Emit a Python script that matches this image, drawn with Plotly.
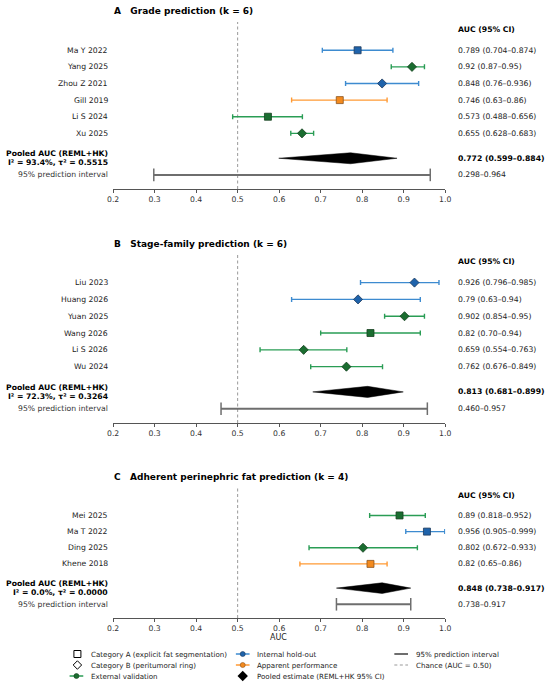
import plotly.graph_objects as go

# ---------------------------------------------------------------------------
# Data
# ---------------------------------------------------------------------------

grade_studies = ["Ma Y 2022", "Yang 2025", "Zhou Z 2021", "Gill 2019", "Li S 2024", "Xu 2025"]
grade_auc = [0.789, 0.92, 0.848, 0.746, 0.573, 0.655]
grade_lo = [0.704, 0.87, 0.76, 0.63, 0.488, 0.628]
grade_hi = [0.874, 0.95, 0.936, 0.86, 0.656, 0.683]
grade_category = ["A", "B", "B", "A", "A", "B"]
grade_validation = ["internal", "external", "internal", "apparent", "external", "external"]
grade_ci_text = ["0.789 (0.704–0.874)", "0.92 (0.87–0.95)", "0.848 (0.76–0.936)",
                 "0.746 (0.63–0.86)", "0.573 (0.488–0.656)", "0.655 (0.628–0.683)"]
grade_pooled = [0.599, 0.772, 0.884]
grade_pooled_text = "0.772 (0.599–0.884)"
grade_het_text = "I² = 93.4%, τ² = 0.5515"
grade_pi = [0.298, 0.964]
grade_pi_text = "0.298–0.964"

stage_studies = ["Liu 2023", "Huang 2026", "Yuan 2025", "Wang 2026", "Li S 2026", "Wu 2024"]
stage_auc = [0.926, 0.79, 0.902, 0.82, 0.659, 0.762]
stage_lo = [0.796, 0.63, 0.854, 0.70, 0.554, 0.676]
stage_hi = [0.985, 0.94, 0.95, 0.94, 0.763, 0.849]
stage_category = ["B", "B", "B", "A", "B", "B"]
stage_validation = ["internal", "internal", "external", "external", "external", "external"]
stage_ci_text = ["0.926 (0.796–0.985)", "0.79 (0.63–0.94)", "0.902 (0.854–0.95)",
                 "0.82 (0.70–0.94)", "0.659 (0.554–0.763)", "0.762 (0.676–0.849)"]
stage_pooled = [0.681, 0.813, 0.899]
stage_pooled_text = "0.813 (0.681–0.899)"
stage_het_text = "I² = 72.3%, τ² = 0.3264"
stage_pi = [0.460, 0.957]
stage_pi_text = "0.460–0.957"

fat_studies = ["Mei 2025", "Ma T 2022", "Ding 2025", "Khene 2018"]
fat_auc = [0.89, 0.956, 0.802, 0.82]
fat_lo = [0.818, 0.905, 0.672, 0.65]
fat_hi = [0.952, 0.999, 0.933, 0.86]
fat_category = ["A", "A", "B", "A"]
fat_validation = ["external", "internal", "external", "apparent"]
fat_ci_text = ["0.89 (0.818–0.952)", "0.956 (0.905–0.999)", "0.802 (0.672–0.933)", "0.82 (0.65–0.86)"]
fat_pooled = [0.738, 0.848, 0.917]
fat_pooled_text = "0.848 (0.738–0.917)"
fat_het_text = "I² = 0.0%, τ² = 0.0000"
fat_pi = [0.738, 0.917]
fat_pi_text = "0.738–0.917"

tick_values = [0.2, 0.3, 0.4, 0.5, 0.6, 0.7, 0.8, 0.9, 1.0]
chance_auc = 0.5

# ---------------------------------------------------------------------------
# Styling
# ---------------------------------------------------------------------------

W, H = 550, 688
FONT = "DejaVu Sans"
FS = 7.7
LEG_FS = 7.1
TEXT = "#222222"
GRAY = "#6e6e6e"
AXIS = "#555555"

# validation -> (error bar colour, marker fill, marker edge)
VAL_STYLE = {
    "internal": ("#3d8bd0", "#1f63ab", "#1e3a5c"),
    "external": ("#2a9d55", "#1a6d30", "#17401f"),
    "apparent": ("#ff9a35", "#f38a1e", "#8a5420"),
}
SYMBOL = {"A": "square", "B": "diamond"}
SIZE = {"A": 7, "B": 7}


def ypx(px):
    return 1 - px / H


def xpx(px):
    return px / W


panels = [
    dict(letter="A", title="Grade prediction (k = 6)", studies=grade_studies, auc=grade_auc,
         lo=grade_lo, hi=grade_hi, cat=grade_category, val=grade_validation, ci=grade_ci_text,
         pooled=grade_pooled, pooled_text=grade_pooled_text, het=grade_het_text,
         pi=grade_pi, pi_text=grade_pi_text, top=22, bottom=189, title_y=11),
    dict(letter="B", title="Stage-family prediction (k = 6)", studies=stage_studies, auc=stage_auc,
         lo=stage_lo, hi=stage_hi, cat=stage_category, val=stage_validation, ci=stage_ci_text,
         pooled=stage_pooled, pooled_text=stage_pooled_text, het=stage_het_text,
         pi=stage_pi, pi_text=stage_pi_text, top=254, bottom=423, title_y=244),
    dict(letter="C", title="Adherent perinephric fat prediction (k = 4)", studies=fat_studies, auc=fat_auc,
         lo=fat_lo, hi=fat_hi, cat=fat_category, val=fat_validation, ci=fat_ci_text,
         pooled=fat_pooled, pooled_text=fat_pooled_text, het=fat_het_text,
         pi=fat_pi, pi_text=fat_pi_text, top=488, bottom=618, title_y=477),
]

fig = go.Figure()
annotations = []
shapes = []
layout_axes = {}

LABEL_X = xpx(106.5)
RIGHT_X = xpx(460)

for i, p in enumerate(panels):
    suffix = "" if i == 0 else str(i + 1)
    xref, yref = "x" + suffix, "y" + suffix
    n = len(p["studies"])
    pooled_row = n - 1 + 1.5
    pi_row = n - 1 + 2.5

    # individual studies
    for j in range(n):
        bar_col, fill, edge = VAL_STYLE[p["val"][j]]
        fig.add_trace(go.Scatter(
            x=[p["auc"][j]], y=[j], xaxis=xref, yaxis=yref, mode="markers",
            marker=dict(symbol=SYMBOL[p["cat"][j]], size=SIZE[p["cat"][j]], color=fill,
                        line=dict(color=edge, width=0.8)),
            error_x=dict(type="data", symmetric=False,
                         array=[p["hi"][j] - p["auc"][j]], arrayminus=[p["auc"][j] - p["lo"][j]],
                         color=bar_col, thickness=1.4, width=2.5),
            showlegend=False, cliponaxis=False, hoverinfo="skip",
        ))

    # pooled diamond
    lo, est, hi = p["pooled"]
    h = 0.33
    fig.add_trace(go.Scatter(
        x=[lo, est, hi, est, lo], y=[pooled_row, pooled_row - h, pooled_row, pooled_row + h, pooled_row],
        xaxis=xref, yaxis=yref, mode="lines", fill="toself", fillcolor="black",
        line=dict(color="black", width=0.5), showlegend=False, hoverinfo="skip",
    ))

    # prediction interval
    fig.add_trace(go.Scatter(
        x=p["pi"], y=[pi_row, pi_row], xaxis=xref, yaxis=yref, mode="lines+markers",
        line=dict(color=GRAY, width=2),
        marker=dict(symbol="line-ns", size=9, color=GRAY, line=dict(color=GRAY, width=1.5)),
        showlegend=False, cliponaxis=False, hoverinfo="skip",
    ))

    # chance line
    shapes.append(dict(type="line", xref=xref, yref=yref + " domain", x0=chance_auc, x1=chance_auc,
                       y0=0, y1=1, line=dict(color="#999999", width=1, dash="3px,2.5px"), layer="below"))

    # axes
    layout_axes["xaxis" + suffix] = dict(
        domain=[xpx(109.5), xpx(449)], range=[0.2, 1.0], anchor=yref,
        showgrid=False, zeroline=False, showline=True, linecolor=AXIS, linewidth=1.2,
        ticks="outside", ticklen=3, tickwidth=1, tickcolor=AXIS,
        tickvals=tick_values, ticktext=[f"{v:.1f}" for v in tick_values],
        tickfont=dict(family=FONT, size=FS, color="#333333"),
    )
    layout_axes["yaxis" + suffix] = dict(
        domain=[ypx(p["bottom"]), ypx(p["top"])], range=[pi_row + 0.85, -1.7],
        anchor=xref, visible=False,
    )

    # title
    annotations.append(dict(
        text=f"<b>{p['letter']}\u00a0\u00a0\u00a0{p['title']}</b>", xref="paper", yref="paper",
        x=xpx(108.5), y=ypx(p["title_y"]), xanchor="left", yanchor="middle", showarrow=False,
        font=dict(family=FONT, size=9, color="black"),
    ))

    # left labels
    for j, name in enumerate(p["studies"]):
        annotations.append(dict(text=name, xref="paper", yref=yref, x=LABEL_X, y=j,
                                xanchor="right", yanchor="middle", showarrow=False,
                                font=dict(family=FONT, size=FS, color=TEXT)))
    annotations.append(dict(text="<b>Pooled AUC (REML+HK)</b>", xref="paper", yref=yref, x=LABEL_X,
                            y=pooled_row - 0.26, xanchor="right", yanchor="middle", showarrow=False,
                            font=dict(family=FONT, size=FS, color="black")))
    annotations.append(dict(text=f"<b>{p['het']}</b>", xref="paper", yref=yref, x=LABEL_X,
                            y=pooled_row + 0.26, xanchor="right", yanchor="middle", showarrow=False,
                            font=dict(family=FONT, size=FS, color="black")))
    annotations.append(dict(text="95% prediction interval", xref="paper", yref=yref, x=LABEL_X,
                            y=pi_row, xanchor="right", yanchor="middle", showarrow=False,
                            font=dict(family=FONT, size=FS, color="#333333")))

    # right column
    annotations.append(dict(text="<b>AUC (95% CI)</b>", xref="paper", yref=yref, x=RIGHT_X, y=-1.25,
                            xanchor="left", yanchor="middle", showarrow=False,
                            font=dict(family=FONT, size=FS, color="black")))
    for j, t in enumerate(p["ci"]):
        annotations.append(dict(text=t, xref="paper", yref=yref, x=RIGHT_X, y=j,
                                xanchor="left", yanchor="middle", showarrow=False,
                                font=dict(family=FONT, size=FS, color=TEXT)))
    annotations.append(dict(text=f"<b>{p['pooled_text']}</b>", xref="paper", yref=yref, x=RIGHT_X,
                            y=pooled_row, xanchor="left", yanchor="middle", showarrow=False,
                            font=dict(family=FONT, size=FS, color="black")))
    annotations.append(dict(text=p["pi_text"], xref="paper", yref=yref, x=RIGHT_X, y=pi_row,
                            xanchor="left", yanchor="middle", showarrow=False,
                            font=dict(family=FONT, size=FS, color=TEXT)))

# x-axis title on the last panel
annotations.append(dict(text="AUC", xref="paper", yref="paper", x=xpx(279), y=ypx(637),
                        xanchor="center", yanchor="middle", showarrow=False,
                        font=dict(family=FONT, size=8, color=TEXT)))

# ---------------------------------------------------------------------------
# Legend (drawn on its own pixel-scaled axis so the rows stay compact)
# ---------------------------------------------------------------------------

legend_entries = [
    # (label, column, row, kind)
    ("Category A (explicit fat segmentation)", 0, 0, "cat_a"),
    ("Category B (peritumoral ring)", 0, 1, "cat_b"),
    ("External validation", 0, 2, "external"),
    ("Internal hold-out", 1, 0, "internal"),
    ("Apparent performance", 1, 1, "apparent"),
    ("Pooled estimate (REML+HK 95% CI)", 1, 2, "pooled"),
    ("95% prediction interval", 2, 0, "pi"),
    ("Chance (AUC = 0.50)", 2, 1, "chance"),
]
col_handle = [(63, 81), (233, 251), (395, 413)]
row_y = [654, 665, 676]

for label, col, row, kind in legend_entries:
    x0, x1 = col_handle[col]
    xm = (x0 + x1) / 2
    y = row_y[row]
    if kind in ("cat_a", "cat_b"):
        fig.add_trace(go.Scatter(
            x=[xm + 1], y=[y], xaxis="x4", yaxis="y4", mode="markers",
            marker=dict(symbol="square-open" if kind == "cat_a" else "diamond-open",
                        size=7 if kind == "cat_a" else 6.5, color="black", line=dict(width=1)),
            showlegend=False, hoverinfo="skip", cliponaxis=False))
    elif kind in VAL_STYLE:
        bar_col, fill, edge = VAL_STYLE[kind]
        fig.add_trace(go.Scatter(
            x=[x0 + 2, xm, x1 - 2], y=[y, y, y], xaxis="x4", yaxis="y4", mode="lines",
            line=dict(color=bar_col, width=1.5), showlegend=False, hoverinfo="skip"))
        fig.add_trace(go.Scatter(
            x=[xm], y=[y], xaxis="x4", yaxis="y4", mode="markers",
            marker=dict(symbol="circle", size=5, color=fill, line=dict(color=edge, width=0.6)),
            showlegend=False, hoverinfo="skip", cliponaxis=False))
    elif kind == "pooled":
        fig.add_trace(go.Scatter(
            x=[xm], y=[y], xaxis="x4", yaxis="y4", mode="markers",
            marker=dict(symbol="diamond", size=8, color="black"),
            showlegend=False, hoverinfo="skip", cliponaxis=False))
    elif kind == "pi":
        fig.add_trace(go.Scatter(
            x=[x0 + 2, x1 - 2], y=[y, y], xaxis="x4", yaxis="y4", mode="lines",
            line=dict(color=GRAY, width=2), showlegend=False, hoverinfo="skip"))
    elif kind == "chance":
        fig.add_trace(go.Scatter(
            x=[x0 + 2, x1 - 2], y=[y, y], xaxis="x4", yaxis="y4", mode="lines",
            line=dict(color="#999999", width=1, dash="3px,2.5px"), showlegend=False, hoverinfo="skip"))
    annotations.append(dict(text=label, xref="x4", yref="y4", x=x1 + 4, y=y,
                            xanchor="left", yanchor="middle", showarrow=False,
                            font=dict(family=FONT, size=LEG_FS, color=TEXT)))

layout_axes["xaxis4"] = dict(domain=[0, 1], range=[0, W], visible=False, anchor="y4")
layout_axes["yaxis4"] = dict(domain=[0, ypx(644)], range=[H, 644], visible=False, anchor="x4")

fig.update_layout(
    width=W, height=H,
    margin=dict(l=0, r=0, t=0, b=0),
    paper_bgcolor="white", plot_bgcolor="white",
    font=dict(family=FONT, size=FS, color=TEXT),
    showlegend=False,
    annotations=annotations,
    shapes=shapes,
    **layout_axes,
)

# the page's default body margin would push the 550 px figure out of the window
fig.write_html(
    "out.html",
    config={"displayModeBar": False, "staticPlot": True},
    post_script="document.body.style.margin='0px';document.body.style.overflow='hidden';",
)
